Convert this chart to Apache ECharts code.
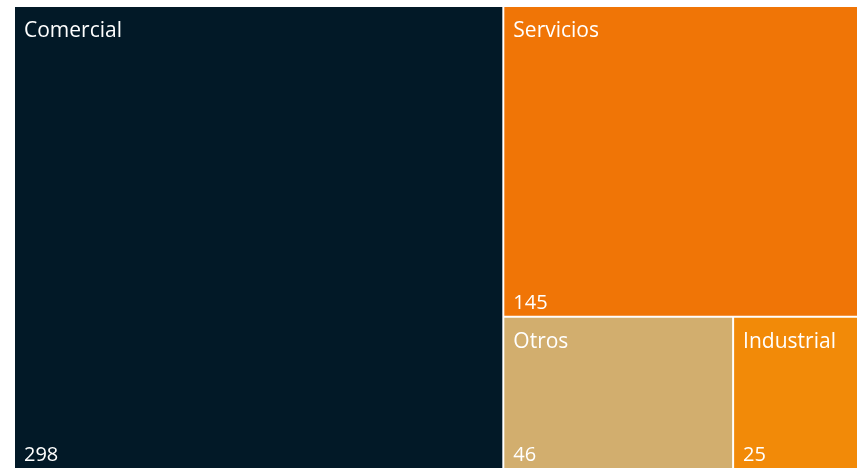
<!DOCTYPE html>
<html>
<head>
<meta charset="utf-8">
<script src="https://cdn.jsdelivr.net/npm/echarts@6/dist/echarts.min.js"></script>
<style>
  html, body { margin: 0; padding: 0; background: #fff; }
  #chart { width: 857px; height: 468px; }
</style>
</head>
<body>
<div id="chart"></div>
<script>
// sectores y sus valores
const categories = ['Comercial', 'Servicios', 'Otros', 'Industrial'];
const values = [298, 145, 46, 25];
const colors = ['#021927', '#F07506', '#D2AE6E', '#F28A08'];

const chart = echarts.init(document.getElementById('chart'));

const data = categories.map((name, i) => ({
    name: name,
    value: values[i],
    itemStyle: { color: colors[i] }
}));

// misma forma para las dos series (una pinta nombres, otra valores)
const base = {
    type: 'treemap',
    left: 15,
    top: 7,
    right: 0,
    bottom: 0,
    roam: false,
    nodeClick: false,
    breadcrumb: { show: false },
    animation: false,
    levels: [{ itemStyle: { gapWidth: 2, borderWidth: 0, borderColor: '#fff' } }]
};

const option = {
    backgroundColor: '#fff',
    series: [
        Object.assign({}, base, {
            data: data,
            label: {
                show: true,
                position: 'insideTopLeft',
                formatter: '{b}',
                color: '#fff',
                fontFamily: 'Open Sans',
                fontSize: 21,
                padding: [14, 0, 0, 9]
            }
        }),
        Object.assign({}, base, {
            silent: true,
            data: categories.map((name, i) => ({
                name: name,
                value: values[i],
                itemStyle: { color: 'rgba(0,0,0,0)' }
            })),
            label: {
                show: true,
                position: 'insideBottomLeft',
                formatter: '{c}',
                color: '#fff',
                fontFamily: 'Open Sans',
                fontSize: 20,
                padding: [0, 0, 3, 9]
            }
        })
    ]
};

chart.setOption(option);
</script>
</body>
</html>
